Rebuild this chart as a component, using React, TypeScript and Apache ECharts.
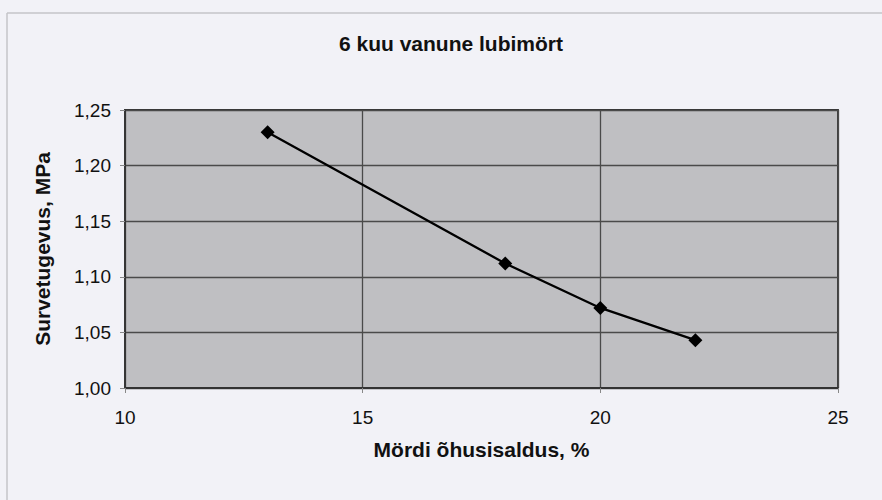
import React, { useEffect, useRef } from "react";
import * as echarts from "echarts";

const chartTitle = "6 kuu vanune lubimört";
const xAxisTitle = "Mördi õhusisaldus, %";
const yAxisTitle = "Survetugevus, MPa";
const airContent = [13, 18, 20, 22];
const strength = [1.23, 1.112, 1.072, 1.043];
const xTicks = [10, 15, 20, 25];
const yTicks = [1.0, 1.05, 1.1, 1.15, 1.2, 1.25];

const FONT = "'Liberation Sans', Arial, sans-serif";

export default function App() {
  const ref = useRef<HTMLDivElement>(null);
  useEffect(() => {
    if (!ref.current) return;
    const chart = echarts.init(ref.current, null, { renderer: "svg" });
    chart.setOption({
      animation: false,
      backgroundColor: "#f2f2f7",
      textStyle: { fontFamily: FONT },
      graphic: [
        {
          type: "line",
          shape: { x1: 7, y1: 13, x2: 882, y2: 13 },
          style: { stroke: "#c4c4c8", lineWidth: 1.5 },
          silent: true,
        },
        {
          type: "line",
          shape: { x1: 7, y1: 13, x2: 7, y2: 500 },
          style: { stroke: "#c4c4c8", lineWidth: 1.5 },
          silent: true,
        },
        {
          type: "text",
          x: 451,
          y: 43,
          style: {
            text: chartTitle,
            fontFamily: FONT,
            fontSize: 21,
            fontWeight: "bold",
            fill: "#111",
            align: "center",
            verticalAlign: "middle",
          },
        },
      ],
      grid: {
        left: 125,
        right: 44,
        top: 110,
        bottom: 112,
        show: true,
        backgroundColor: "#bfbfc2",
        borderColor: "#333",
        borderWidth: 1.8,
      },
      xAxis: {
        type: "value",
        min: xTicks[0],
        max: xTicks[xTicks.length - 1],
        interval: 5,
        name: xAxisTitle,
        nameLocation: "middle",
        nameGap: 51,
        nameTextStyle: { fontSize: 21, fontWeight: "bold", color: "#111", fontFamily: FONT },
        axisLine: { show: true, lineStyle: { color: "#333", width: 1.8 } },
        axisTick: { show: true, length: 5, lineStyle: { color: "#888" } },
        axisLabel: { fontSize: 19, color: "#111", margin: 20, fontFamily: FONT },
        splitLine: { show: true, lineStyle: { color: "#4a4a4a", width: 1.3 } },
      },
      yAxis: {
        type: "value",
        min: yTicks[0],
        max: yTicks[yTicks.length - 1],
        interval: 0.05,
        name: yAxisTitle,
        nameLocation: "middle",
        nameGap: 72,
        nameTextStyle: { fontSize: 21, fontWeight: "bold", color: "#111", fontFamily: FONT },
        axisLine: { show: true, lineStyle: { color: "#333", width: 1.8 } },
        axisTick: { show: true, length: 5, lineStyle: { color: "#888" } },
        axisLabel: {
          fontSize: 19,
          color: "#111",
          margin: 14,
          fontFamily: FONT,
          formatter: (v: number) => v.toFixed(2).replace(".", ","),
        },
        splitLine: { show: true, lineStyle: { color: "#4a4a4a", width: 1.3 } },
      },
      series: [
        {
          type: "line",
          data: airContent.map((x, i) => [x, strength[i]]),
          symbol: "diamond",
          symbolSize: 14,
          itemStyle: { color: "#000" },
          lineStyle: { color: "#000", width: 2.3 },
        },
      ],
    });
    return () => chart.dispose();
  }, []);
  return <div ref={ref} style={{ width: 882, height: 500, position: "absolute", left: 0, top: 0 }} />;
}
